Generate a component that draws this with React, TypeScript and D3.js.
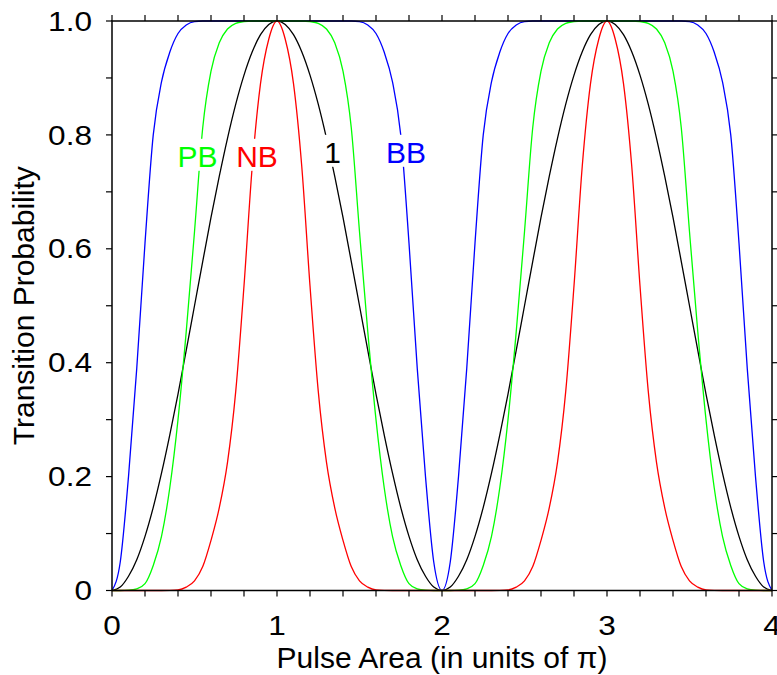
import React from "react";
import * as d3 from "d3";

// Pulse area in units of pi
const pulseArea = [
  0, 0.05, 0.1, 0.15, 0.2, 0.25, 0.3, 0.35, 0.4, 0.45, 0.5, 0.55, 0.6, 0.65, 0.7, 0.75, 0.8, 0.85, 0.9, 0.95,
  1, 1.05, 1.1, 1.15, 1.2, 1.25, 1.3, 1.35, 1.4, 1.45, 1.5, 1.55, 1.6, 1.65, 1.7, 1.75, 1.8, 1.85, 1.9, 1.95,
  2, 2.05, 2.1, 2.15, 2.2, 2.25, 2.3, 2.35, 2.4, 2.45, 2.5, 2.55, 2.6, 2.65, 2.7, 2.75, 2.8, 2.85, 2.9, 2.95,
  3, 3.05, 3.1, 3.15, 3.2, 3.25, 3.3, 3.35, 3.4, 3.45, 3.5, 3.55, 3.6, 3.65, 3.7, 3.75, 3.8, 3.85, 3.9, 3.95,
  4,
];

// Single pulse ("1")
const singlePulse = [
  0, 0.006, 0.025, 0.054, 0.095, 0.146, 0.206, 0.273, 0.345, 0.422, 0.5, 0.578, 0.655, 0.727, 0.794, 0.854, 0.905, 0.946, 0.976, 0.994,
  1, 0.994, 0.976, 0.946, 0.905, 0.854, 0.794, 0.727, 0.655, 0.578, 0.5, 0.422, 0.345, 0.273, 0.206, 0.146, 0.095, 0.054, 0.025, 0.006,
  0, 0.006, 0.025, 0.054, 0.095, 0.146, 0.206, 0.273, 0.345, 0.422, 0.5, 0.578, 0.655, 0.727, 0.794, 0.854, 0.905, 0.946, 0.976, 0.994,
  1, 0.994, 0.976, 0.946, 0.905, 0.854, 0.794, 0.727, 0.655, 0.578, 0.5, 0.422, 0.345, 0.273, 0.206, 0.146, 0.095, 0.054, 0.025, 0.006,
  0,
];

// Broadband (BB)
const bbPulse = [
  0, 0.05, 0.2, 0.39, 0.61, 0.8, 0.893, 0.945, 0.978, 0.993, 0.999, 1, 1, 1, 1, 1, 1, 1, 1, 1,
  1, 1, 1, 1, 1, 1, 1, 1, 1, 1, 0.999, 0.993, 0.978, 0.945, 0.893, 0.8, 0.61, 0.39, 0.2, 0.05,
  0, 0.05, 0.2, 0.39, 0.61, 0.8, 0.893, 0.945, 0.978, 0.993, 0.999, 1, 1, 1, 1, 1, 1, 1, 1, 1,
  1, 1, 1, 1, 1, 1, 1, 1, 1, 1, 0.999, 0.993, 0.978, 0.945, 0.893, 0.8, 0.61, 0.39, 0.2, 0.05,
  0,
];

// Passband (PB)
const pbPulse = [
  0, 0, 0.0005, 0.003, 0.012, 0.044, 0.095, 0.18, 0.3, 0.455, 0.63, 0.813, 0.912, 0.962, 0.986, 0.996, 0.999, 1, 1, 1,
  1, 1, 1, 1, 0.999, 0.996, 0.986, 0.962, 0.912, 0.813, 0.63, 0.455, 0.3, 0.18, 0.095, 0.044, 0.012, 0.003, 0.0005, 0,
  0, 0, 0.0005, 0.003, 0.012, 0.044, 0.095, 0.18, 0.3, 0.455, 0.63, 0.813, 0.912, 0.962, 0.986, 0.996, 0.999, 1, 1, 1,
  1, 1, 1, 1, 0.999, 0.996, 0.986, 0.962, 0.912, 0.813, 0.63, 0.455, 0.3, 0.18, 0.095, 0.044, 0.012, 0.003, 0.0005, 0,
  0,
];

// Narrowband (NB)
const nbPulse = [
  0, 0, 0, 0, 0, 0, 0, 0.0002, 0.001, 0.006, 0.017, 0.042, 0.088, 0.145, 0.225, 0.35, 0.535, 0.745, 0.89, 0.968,
  1, 0.968, 0.89, 0.745, 0.535, 0.35, 0.225, 0.145, 0.088, 0.042, 0.017, 0.006, 0.001, 0.0002, 0, 0, 0, 0, 0, 0,
  0, 0, 0, 0, 0, 0, 0, 0.0002, 0.001, 0.006, 0.017, 0.042, 0.088, 0.145, 0.225, 0.35, 0.535, 0.745, 0.89, 0.968,
  1, 0.968, 0.89, 0.745, 0.535, 0.35, 0.225, 0.145, 0.088, 0.042, 0.017, 0.006, 0.001, 0.0002, 0, 0, 0, 0, 0, 0,
  0,
];

const xTickValues = [0, 1, 2, 3, 4];
const xTickLabels = ["0", "1", "2", "3", "4"];
const yTickValues = [0, 0.2, 0.4, 0.6, 0.8, 1.0];
const yTickLabels = ["0", "0.2", "0.4", "0.6", "0.8", "1.0"];

const seriesNames = ["1", "BB", "PB", "NB"];
const seriesColors = ["#000000", "#0000ff", "#00ff00", "#ff0000"];
const seriesValues = [singlePulse, bbPulse, pbPulse, nbPulse];

// label anchor positions in data coordinates (center x, baseline y)
const labelNames = ["PB", "NB", "1", "BB"];
const labelColors = ["#00ff00", "#ff0000", "#000000", "#0000ff"];
const labelX = [0.518, 0.879, 1.337, 1.782];
const labelY = [0.744, 0.744, 0.751, 0.751];
const labelWidths = [40, 41.7, 16.7, 40];

export default function App() {
  const W = 777;
  const H = 675;
  const x = d3.scaleLinear().domain([0, 4]).range([112, 772]);
  const y = d3.scaleLinear().domain([0, 1]).range([590.5, 21]);

  const line = d3
    .line<number>()
    .x((_, i) => x(pulseArea[i]))
    .y((d) => y(d))
    .curve(d3.curveMonotoneX);

  const xMinor = x.ticks(20);
  const yMinor = y.ticks(10);
  const tickLen = 6;
  const font = "'Liberation Sans', Arial, Helvetica, sans-serif";
  const tickFs = 27;
  const tickScale = 1.17;

  return (
    <svg
      width={W}
      height={H}
      style={{ position: "absolute", left: 0, top: 0, background: "#fff" }}
      fontFamily={font}
    >
      <rect x={0} y={0} width={W} height={H} fill="#fff" />
      <g fill="none" strokeWidth={1.3}>
        {seriesValues.map((vals, k) => (
          <path key={seriesNames[k]} d={line(vals) || ""} stroke={seriesColors[k]} />
        ))}
      </g>
      {/* curve labels */}
      {labelNames.map((t, i) => (
        <g key={t}>
          <rect
            x={x(labelX[i]) - labelWidths[i] / 2 - 2}
            y={y(labelY[i]) - 28}
            width={labelWidths[i] + 4}
            height={32}
            fill="#fff"
          />
          <text
            x={x(labelX[i])}
            y={y(labelY[i])}
            textAnchor="middle"
            fontSize={30}
            fill={labelColors[i]}
          >
            {t}
          </text>
        </g>
      ))}
      {/* frame */}
      <rect
        x={x(0)}
        y={y(1)}
        width={x(4) - x(0)}
        height={y(0) - y(1)}
        fill="none"
        stroke="#000"
        strokeWidth={1.5}
      />
      {/* ticks (outward on all four sides) */}
      <g stroke="#000" strokeWidth={1.2}>
        {xMinor.map((v) => (
          <g key={"xt" + v}>
            <line x1={x(v)} x2={x(v)} y1={y(0)} y2={y(0) + tickLen} />
            <line x1={x(v)} x2={x(v)} y1={y(1)} y2={y(1) - tickLen} />
          </g>
        ))}
        {yMinor.map((v) => (
          <g key={"yt" + v}>
            <line x1={x(0)} x2={x(0) - tickLen} y1={y(v)} y2={y(v)} />
            <line x1={x(4)} x2={x(4) + tickLen} y1={y(v)} y2={y(v)} />
          </g>
        ))}
      </g>
      {/* tick labels */}
      {xTickValues.map((v, i) => (
        <text
          key={"xl" + v}
          transform={`translate(${x(v)},635) scale(${tickScale},1)`}
          textAnchor="middle"
          fontSize={tickFs}
          fill="#000"
        >
          {xTickLabels[i]}
        </text>
      ))}
      {yTickValues.map((v, i) => (
        <text
          key={"yl" + v}
          transform={`translate(92,${y(v) + 0.358 * tickFs}) scale(${tickScale},1)`}
          textAnchor="end"
          fontSize={tickFs}
          fill="#000"
        >
          {yTickLabels[i]}
        </text>
      ))}
      {/* axis titles */}
      <text x={(x(0) + x(4)) / 2} y={668} textAnchor="middle" fontSize={30} fill="#000">
        Pulse Area (in units of π)
      </text>
      <text
        transform={`translate(34,${(y(0) + y(1)) / 2}) rotate(-90)`}
        textAnchor="middle"
        fontSize={30}
        fill="#000"
      >
        Transition Probability
      </text>
    </svg>
  );
}
